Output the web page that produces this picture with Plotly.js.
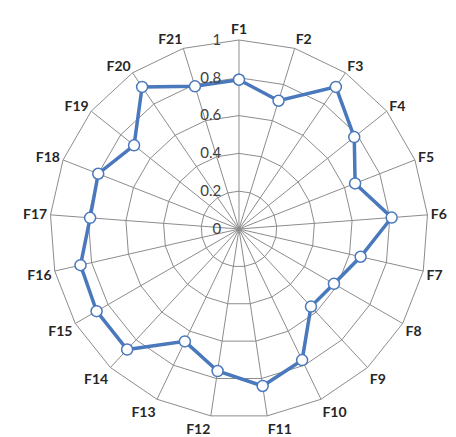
<!DOCTYPE html>
<html>
<head>
<meta charset="utf-8">
<script src="https://cdn.plot.ly/plotly-3.0.1.min.js"></script>
<style>html,body{margin:0;padding:0;background:#fff;}#chart{width:456px;height:437px;}</style>
</head>
<body>
<div id="chart"></div>
<script>
const categories = ['F1','F2','F3','F4','F5','F6','F7','F8','F9','F10','F11','F12','F13','F14','F15','F16','F17','F18','F19','F20','F21'];
const values = [0.79,0.71,0.91,0.78,0.66,0.81,0.66,0.58,0.56,0.77,0.84,0.76,0.66,0.87,0.87,0.86,0.79,0.80,0.71,0.91,0.79];
const radialTicks = [0,0.2,0.4,0.6,0.8,1];
const radialTickText = ['0','0.2','0.4','0.6','0.8','1'];

const trace = {
  type: 'scatterpolar',
  r: values.concat([values[0]]),
  theta: categories.concat([categories[0]]),
  mode: 'lines+markers',
  line: {color: '#4a78bd', width: 3.5},
  marker: {size: 11, color: '#ffffff', line: {color: '#4a78bd', width: 1.5}},
  hoverinfo: 'skip',
  showlegend: false
};

const layout = {
  width: 456, height: 437,
  margin: {l: 0, r: 0, t: 0, b: 0},
  paper_bgcolor: '#ffffff',
  plot_bgcolor: '#ffffff',
  polar: {
    domain: {x: [0.1096, 0.9386], y: [0.0435, 0.9085]},
    gridshape: 'linear',
    bgcolor: '#ffffff',
    radialaxis: {
      range: [0, 1],
      tickvals: radialTicks,
      ticktext: radialTickText,
      angle: 90,
      tickangle: 90,
      side: 'counterclockwise',
      showline: false,
      ticks: 'outside',
      ticklen: 12,
      tickcolor: 'rgba(0,0,0,0)',
      gridcolor: '#8c8c8c',
      gridwidth: 1,
      tickfont: {family: 'Lato, "Open Sans", sans-serif', size: 15, color: '#404040'}
    },
    angularaxis: {
      direction: 'clockwise',
      rotation: 90,
      showline: true,
      linecolor: '#8c8c8c',
      linewidth: 1,
      gridcolor: '#8c8c8c',
      gridwidth: 1,
      ticks: '',
      tickfont: {family: 'Lato, "Open Sans", sans-serif', size: 14, color: '#262626', weight: 'bold'}
    }
  }
};

Plotly.newPlot('chart', [trace], layout, {staticPlot: true, displayModeBar: false});
</script>
</body>
</html>
